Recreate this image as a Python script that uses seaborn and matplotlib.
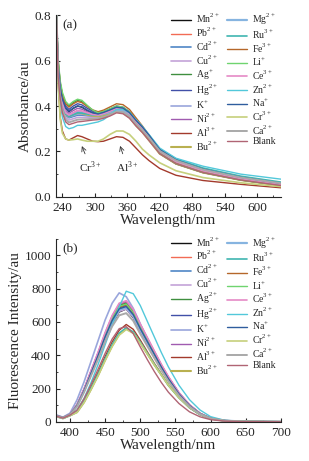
import matplotlib
matplotlib.use('Agg')
import matplotlib.pyplot as plt
import matplotlib.ticker as ticker
import seaborn as sns
import pandas as pd

# ---- data ----
ions = ['Mn', 'Pb', 'Cd', 'Cu', 'Ag', 'Hg', 'K', 'Ni', 'Al', 'Bu',
        'Mg', 'Ru', 'Fe', 'Li', 'Ce', 'Zn', 'Na', 'Cr', 'Ca', 'Blank']
charges_a = ['2+', '2+', '2+', '2+', '+', '2+', '+', '2+', '3+', '2+',
             '2+', '3+', '3+', '+', '3+', '2+', '+', '3+', '2+', '']
charges_b = ['2+', '2+', '2+', '2+', '2+', '2+', '+', '2+', '3+', '2+',
             '2+', '3+', '3+', '+', '3+', '2+', '+', '2+', '2+', '']
colors = ['#111111', '#f26b55', '#4f86c6', '#c3a3d8', '#3f8f3f', '#4150a8', '#9aa6dc', '#a05bb0', '#a33a2c', '#b9b050',
          '#86b4e0', '#3fb5b0', '#b5672a', '#6fd46f', '#e58ac6', '#52c8da', '#2f5d9e', '#c6d07c', '#a9a9a9', '#b06474']
widths = [1.0, 1.0, 1.2, 1.2, 1.0, 1.0, 1.2, 1.0, 1.0, 1.5,
          1.6, 1.2, 1.0, 1.0, 1.2, 1.0, 1.0, 1.2, 1.4, 1.0]

wl_abs = [228, 232, 236, 240, 246, 252, 260, 268, 276, 286, 296, 306, 316,
          328, 340, 352, 364, 376, 388, 400, 420, 450, 500, 570, 644]
absorb = {
    'Mn': [0.85, 0.58, 0.48, 0.43, 0.39, 0.375, 0.39, 0.40, 0.395, 0.38, 0.37, 0.365, 0.37, 0.378, 0.39, 0.385, 0.365, 0.33, 0.30, 0.265, 0.20, 0.155, 0.115, 0.08, 0.055],
    'Pb': [0.85, 0.57, 0.47, 0.41, 0.37, 0.36, 0.37, 0.38, 0.377, 0.37, 0.362, 0.36, 0.365, 0.373, 0.385, 0.38, 0.36, 0.325, 0.295, 0.26, 0.197, 0.153, 0.113, 0.079, 0.055],
    'Cd': [0.85, 0.56, 0.46, 0.40, 0.36, 0.348, 0.354, 0.36, 0.36, 0.357, 0.355, 0.355, 0.36, 0.368, 0.38, 0.376, 0.356, 0.322, 0.293, 0.258, 0.198, 0.156, 0.117, 0.082, 0.058],
    'Cu': [0.85, 0.55, 0.45, 0.39, 0.35, 0.338, 0.344, 0.35, 0.35, 0.35, 0.35, 0.35, 0.355, 0.363, 0.375, 0.372, 0.352, 0.318, 0.29, 0.255, 0.195, 0.152, 0.113, 0.079, 0.055],
    'Ag': [0.85, 0.60, 0.50, 0.45, 0.41, 0.40, 0.415, 0.425, 0.42, 0.40, 0.38, 0.37, 0.375, 0.385, 0.395, 0.39, 0.37, 0.335, 0.30, 0.26, 0.19, 0.145, 0.107, 0.074, 0.05],
    'Hg': [0.85, 0.59, 0.49, 0.44, 0.40, 0.385, 0.40, 0.41, 0.405, 0.39, 0.377, 0.37, 0.375, 0.387, 0.40, 0.395, 0.375, 0.34, 0.305, 0.27, 0.202, 0.156, 0.115, 0.08, 0.055],
    'K': [0.85, 0.56, 0.46, 0.40, 0.365, 0.352, 0.358, 0.365, 0.364, 0.36, 0.357, 0.355, 0.36, 0.368, 0.38, 0.377, 0.357, 0.325, 0.296, 0.262, 0.202, 0.16, 0.12, 0.085, 0.06],
    'Ni': [0.85, 0.58, 0.48, 0.42, 0.38, 0.368, 0.38, 0.39, 0.386, 0.375, 0.365, 0.36, 0.366, 0.377, 0.39, 0.386, 0.366, 0.332, 0.302, 0.267, 0.203, 0.158, 0.118, 0.083, 0.058],
    'Al': [0.85, 0.50, 0.35, 0.29, 0.255, 0.25, 0.26, 0.27, 0.265, 0.255, 0.245, 0.243, 0.245, 0.255, 0.265, 0.262, 0.245, 0.215, 0.185, 0.16, 0.125, 0.095, 0.072, 0.055, 0.04],
    'Bu': [0.85, 0.57, 0.47, 0.40, 0.365, 0.355, 0.363, 0.37, 0.368, 0.362, 0.357, 0.355, 0.358, 0.365, 0.375, 0.37, 0.35, 0.315, 0.285, 0.25, 0.19, 0.146, 0.107, 0.074, 0.05],
    'Mg': [0.85, 0.57, 0.47, 0.41, 0.37, 0.358, 0.367, 0.375, 0.373, 0.367, 0.362, 0.36, 0.365, 0.373, 0.385, 0.381, 0.362, 0.328, 0.299, 0.265, 0.204, 0.161, 0.121, 0.086, 0.06],
    'Ru': [0.85, 0.57, 0.47, 0.40, 0.365, 0.354, 0.362, 0.37, 0.369, 0.365, 0.361, 0.36, 0.366, 0.377, 0.39, 0.387, 0.368, 0.335, 0.305, 0.272, 0.21, 0.167, 0.127, 0.091, 0.065],
    'Fe': [0.85, 0.60, 0.50, 0.45, 0.41, 0.395, 0.41, 0.42, 0.415, 0.398, 0.383, 0.375, 0.382, 0.396, 0.41, 0.406, 0.385, 0.348, 0.312, 0.272, 0.198, 0.148, 0.108, 0.075, 0.05],
    'Li': [0.85, 0.61, 0.51, 0.46, 0.42, 0.405, 0.42, 0.43, 0.425, 0.403, 0.382, 0.37, 0.376, 0.388, 0.40, 0.395, 0.374, 0.338, 0.303, 0.264, 0.192, 0.146, 0.107, 0.074, 0.05],
    'Ce': [0.85, 0.57, 0.47, 0.41, 0.37, 0.36, 0.37, 0.38, 0.378, 0.37, 0.363, 0.36, 0.366, 0.377, 0.39, 0.386, 0.366, 0.331, 0.30, 0.265, 0.20, 0.155, 0.115, 0.08, 0.055],
    'Zn': [0.85, 0.52, 0.41, 0.35, 0.31, 0.30, 0.305, 0.315, 0.315, 0.32, 0.325, 0.33, 0.34, 0.36, 0.385, 0.385, 0.37, 0.34, 0.31, 0.275, 0.215, 0.17, 0.135, 0.10, 0.078],
    'Na': [0.85, 0.58, 0.48, 0.43, 0.39, 0.377, 0.39, 0.40, 0.396, 0.382, 0.37, 0.365, 0.372, 0.383, 0.395, 0.391, 0.371, 0.337, 0.307, 0.272, 0.208, 0.163, 0.122, 0.086, 0.06],
    'Cr': [0.85, 0.50, 0.34, 0.28, 0.255, 0.25, 0.252, 0.255, 0.25, 0.245, 0.245, 0.245, 0.255, 0.275, 0.29, 0.29, 0.275, 0.245, 0.21, 0.185, 0.15, 0.115, 0.085, 0.062, 0.045],
    'Ca': [0.85, 0.54, 0.44, 0.38, 0.34, 0.328, 0.334, 0.34, 0.341, 0.342, 0.344, 0.345, 0.351, 0.361, 0.375, 0.373, 0.355, 0.322, 0.294, 0.261, 0.202, 0.16, 0.12, 0.085, 0.06],
    'Blank': [0.85, 0.53, 0.43, 0.37, 0.33, 0.318, 0.324, 0.33, 0.332, 0.335, 0.338, 0.34, 0.346, 0.356, 0.37, 0.366, 0.346, 0.312, 0.283, 0.248, 0.19, 0.146, 0.107, 0.074, 0.05],
}

wl_fl = [380, 390, 400, 410, 420, 430, 440, 450, 460, 470, 480, 490,
         500, 510, 520, 530, 540, 555, 570, 585, 600, 620, 645, 700]
fluor = {
    'Mn': [40, 26, 45, 95, 184, 286, 388, 496, 592, 660, 678, 626, 544, 469, 394, 320, 252, 163, 95, 48, 20, 7, 2, 0],
    'Pb': [38, 24, 46, 102, 196, 305, 413, 529, 631, 703, 718, 667, 580, 500, 420, 341, 268, 174, 101, 51, 22, 7, 2, 0],
    'Cd': [36, 24, 44, 97, 186, 290, 393, 504, 600, 669, 683, 635, 552, 476, 400, 324, 255, 166, 97, 48, 21, 7, 2, 0],
    'Cu': [37, 25, 45, 96, 185, 288, 390, 500, 596, 664, 678, 630, 548, 473, 397, 322, 253, 164, 96, 48, 21, 7, 2, 0],
    'Ag': [39, 25, 46, 101, 194, 302, 410, 526, 626, 698, 713, 662, 576, 497, 418, 338, 266, 173, 101, 50, 22, 7, 2, 0],
    'Hg': [38, 25, 45, 99, 190, 296, 402, 515, 613, 684, 698, 649, 564, 486, 409, 331, 261, 169, 99, 49, 21, 7, 2, 0],
    'K': [42, 28, 52, 132, 240, 364, 488, 612, 713, 775, 752, 682, 589, 496, 411, 326, 248, 155, 85, 43, 19, 6, 2, 0],
    'Ni': [39, 25, 46, 102, 197, 307, 416, 533, 635, 708, 723, 672, 584, 504, 423, 343, 270, 175, 102, 51, 22, 7, 2, 0],
    'Al': [34, 22, 40, 64, 129, 211, 298, 392, 480, 550, 585, 556, 491, 421, 351, 287, 222, 146, 85, 44, 19, 6, 2, 0],
    'Bu': [33, 21, 38, 58, 118, 197, 280, 372, 457, 526, 560, 537, 476, 410, 344, 283, 221, 147, 87, 45, 19, 6, 2, 0],
    'Mg': [37, 24, 45, 97, 188, 292, 396, 507, 605, 674, 688, 639, 556, 480, 403, 327, 257, 167, 97, 49, 21, 7, 2, 0],
    'Ru': [33, 21, 38, 60, 122, 202, 286, 378, 464, 533, 565, 540, 478, 411, 344, 282, 219, 145, 85, 44, 19, 6, 2, 0],
    'Fe': [38, 25, 45, 99, 192, 298, 405, 518, 618, 689, 703, 653, 568, 490, 412, 334, 263, 170, 99, 50, 21, 7, 2, 0],
    'Li': [38, 25, 45, 100, 193, 300, 408, 522, 622, 694, 708, 658, 572, 493, 415, 336, 265, 172, 100, 50, 21, 7, 2, 0],
    'Ce': [39, 25, 46, 103, 198, 309, 419, 537, 639, 713, 728, 676, 588, 507, 426, 345, 272, 176, 103, 51, 22, 7, 2, 0],
    'Zn': [32, 20, 38, 71, 141, 236, 345, 463, 581, 691, 785, 770, 699, 604, 510, 416, 330, 220, 133, 71, 31, 9, 2, 0],
    'Na': [38, 25, 45, 98, 189, 294, 399, 511, 609, 679, 693, 644, 560, 483, 406, 329, 259, 168, 98, 49, 21, 7, 2, 0],
    'Cr': [33, 21, 38, 57, 116, 194, 277, 368, 452, 521, 555, 532, 472, 407, 341, 281, 219, 146, 86, 45, 19, 6, 2, 0],
    'Ca': [36, 24, 43, 92, 178, 277, 376, 482, 574, 640, 653, 607, 528, 455, 383, 310, 244, 158, 92, 46, 20, 7, 2, 0],
    'Blank': [34, 22, 40, 70, 138, 224, 316, 412, 498, 560, 572, 530, 450, 374, 302, 236, 178, 110, 60, 30, 13, 4, 1, 0],
}

sns.set_style('ticks')
plt.rcParams['font.family'] = ['Liberation Serif', 'DejaVu Serif']
plt.rcParams['mathtext.fontset'] = 'custom'
plt.rcParams['mathtext.rm'] = 'Liberation Serif'


def label(ion, ch):
    if not ch:
        return ion
    return ion + r'$^{\mathregular{' + ch + '}}$'


def draw(ax, wl, table, charges):
    for ion, c, w, ch in zip(ions, colors, widths, charges):
        df = pd.DataFrame({'wl': wl, 'y': table[ion]})
        sns.lineplot(data=df, x='wl', y='y', ax=ax, color=c, lw=w,
                     label=label(ion, ch), sort=False, estimator=None)
    ax.legend(loc='upper right', ncol=2, frameon=False, fontsize=7,
              handlelength=2.1, handletextpad=0.5, columnspacing=0.7,
              labelspacing=0.08, bbox_to_anchor=(1.005, 1.05), borderaxespad=0.2)
    for s in ['top', 'right']:
        ax.spines[s].set_visible(False)
    ax.tick_params(which='both', direction='in', labelsize=9.5)
    ax.tick_params(which='major', length=3)
    ax.tick_params(which='minor', length=1.5)


fig = plt.figure(figsize=(3.09, 4.61), dpi=100)
ax1 = fig.add_axes([0.181, 0.573, 0.728, 0.394])
ax2 = fig.add_axes([0.181, 0.085, 0.728, 0.397])

draw(ax1, wl_abs, absorb, charges_a)
ax1.set_xlim(228, 644)
ax1.set_ylim(0, 0.8)
ax1.xaxis.set_major_locator(ticker.MultipleLocator(60))
ax1.xaxis.set_minor_locator(ticker.MultipleLocator(30))
ax1.yaxis.set_major_locator(ticker.MultipleLocator(0.2))
ax1.yaxis.set_minor_locator(ticker.MultipleLocator(0.1))
ax1.yaxis.set_major_formatter(ticker.FormatStrFormatter('%.1f'))
ax1.set_xlabel('Wavelength/nm', fontsize=11, labelpad=0)
ax1.set_ylabel('Absorbance/au', fontsize=11, labelpad=2)
ax1.text(0.03, 0.93, '(a)', transform=ax1.transAxes, fontsize=9.5)
ax1.annotate(label('Cr', '3+'), xy=(274, 0.235), xytext=(292, 0.13), fontsize=8,
             ha='center', va='center', arrowprops=dict(arrowstyle='->', lw=0.6, color='#333333'))
ax1.annotate(label('Al', '3+'), xy=(345, 0.236), xytext=(360, 0.13), fontsize=8,
             ha='center', va='center', arrowprops=dict(arrowstyle='->', lw=0.6, color='#333333'))

draw(ax2, wl_fl, fluor, charges_b)
ax2.set_xlim(380, 700)
ax2.set_ylim(0, 1100)
ax2.xaxis.set_major_locator(ticker.MultipleLocator(50))
ax2.xaxis.set_minor_locator(ticker.MultipleLocator(25))
ax2.yaxis.set_major_locator(ticker.MultipleLocator(200))
ax2.yaxis.set_minor_locator(ticker.MultipleLocator(100))
ax2.set_xlabel('Wavelength/nm', fontsize=11, labelpad=0)
ax2.set_ylabel('Fluorescence Intensity/au', fontsize=11, labelpad=2)
ax2.text(0.03, 0.93, '(b)', transform=ax2.transAxes, fontsize=9.5)

fig.savefig('out.png', dpi=100)
